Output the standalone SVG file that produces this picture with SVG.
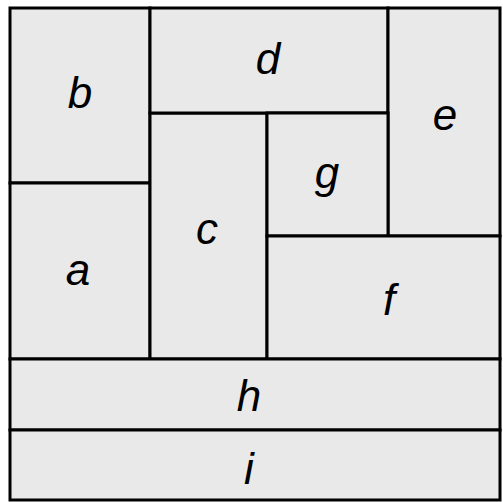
<svg xmlns="http://www.w3.org/2000/svg" width="503" height="502" viewBox="0 0 503 502">
<style>
.box{fill:#e9e9e9;stroke:#000;stroke-width:3}
.lbl{font-family:"Liberation Sans",Arial,sans-serif;font-style:italic;font-size:44px;fill:#000;text-anchor:middle}
</style>
<rect width="503" height="502" fill="#fff"/>
<g id="b"><rect class="box" x="10" y="8" width="140" height="175"/><text class="lbl" x="80" y="108">b</text></g>
<g id="a"><rect class="box" x="10" y="183" width="140" height="176"/><text class="lbl" x="78" y="285">a</text></g>
<g id="c"><rect class="box" x="150" y="113" width="117" height="246"/><text class="lbl" x="207" y="244">c</text></g>
<g id="d"><rect class="box" x="150" y="8" width="238" height="105"/><text class="lbl" x="268" y="74">d</text></g>
<g id="e"><rect class="box" x="388" y="8" width="112" height="228"/><text class="lbl" x="445" y="130">e</text></g>
<g id="g"><rect class="box" x="267" y="113" width="121" height="123"/><text class="lbl" x="327" y="188">g</text></g>
<g id="f"><rect class="box" x="267" y="236" width="233" height="123"/><text class="lbl" x="389" y="315">f</text></g>
<g id="h"><rect class="box" x="10" y="359" width="490" height="71"/><text class="lbl" x="249" y="411">h</text></g>
<g id="i"><rect class="box" x="10" y="430" width="490" height="70"/><text class="lbl" x="249" y="484">i</text></g>
</svg>
